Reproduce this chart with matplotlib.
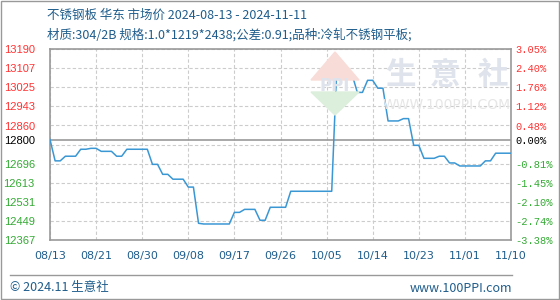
import matplotlib
matplotlib.use("Agg")
import matplotlib.pyplot as plt
from matplotlib.patches import Polygon, Rectangle
from matplotlib.lines import Line2D

plt.rcParams['font.family'] = ['Noto Sans CJK SC', 'DejaVu Sans']

# daily prices 2024-08-13 .. 2024-11-11
prices = [12800, 12708, 12708, 12728, 12728, 12728, 12758, 12758, 12762, 12762,
          12749, 12749, 12749, 12728, 12728, 12758, 12758, 12758, 12758, 12758,
          12693, 12693, 12650, 12650, 12629, 12629, 12629, 12595, 12595, 12439,
          12436, 12436, 12436, 12436, 12436, 12436, 12486, 12486, 12499, 12499,
          12499, 12452, 12452, 12508, 12508, 12508, 12508, 12577, 12577, 12577,
          12577, 12577, 12577, 12577, 12577, 12577, 13120, 13120, 13078, 13078,
          13003, 13003, 13055, 13055, 13021, 13021, 12880, 12880, 12880, 12890,
          12890, 12775, 12775, 12719, 12719, 12719, 12728, 12728, 12699, 12699,
          12686, 12686, 12686, 12686, 12686, 12708, 12708, 12741, 12741, 12741,
          12741]
xlabels = ['08/13', '08/21', '08/30', '09/08', '09/17', '09/26', '10/05',
           '10/14', '10/23', '11/01', '11/10']
base = 12800
ymin, ymax = 12367, 13190
left_ticks = [13190, 13107, 13025, 12943, 12860, 12800, 12696, 12613, 12531, 12449, 12367]
right_labels = ['3.05%', '2.40%', '1.76%', '1.12%', '0.48%', '0.00%',
                '-0.81%', '-1.45%', '-2.10%', '-2.74%', '-3.38%']
title1 = '不锈钢板 华东 市场价 2024-08-13 - 2024-11-11'
title2 = '材质:304/2B 规格:1.0*1219*2438;公差:0.91;品种:冷轧不锈钢平板;'

blue_txt = '#1f5d8c'
red = '#ff3333'
green = '#33aa33'

W, H = 560, 300
def fx(px):
    return px / W
def fy(py):
    return 1 - py / H

fig = plt.figure(figsize=(5.6, 3.0), dpi=100)
fig.patches.append(Rectangle((0.001, 0.002), 0.997, 0.995, transform=fig.transFigure,
                             fill=False, edgecolor='#999999', linewidth=1))

# watermark
for cx, ch in [(400, '生'), (445, '意'), (493, '社')]:
    fig.text(fx(cx), fy(75), ch, fontsize=22, color='#dfe3ec', ha='center', va='center',
             fontweight='bold', zorder=0)
fig.text(fx(447), fy(105), 'WWW.100PPI.COM', fontsize=10, color='#e6e6e6', ha='center',
         va='center', zorder=0, family='DejaVu Sans')
fig.patches.append(Polygon([(fx(311), fy(80)), (fx(335), fy(52)), (fx(359), fy(80))],
                           transform=fig.transFigure, color='#f8dcd8', zorder=0))
fig.patches.append(Polygon([(fx(311), fy(92)), (fx(335), fy(115)), (fx(359), fy(92))],
                           transform=fig.transFigure, color='#dcefdc', zorder=0))
fig.text(fx(335), fy(86), 'PPI', fontsize=12, color='#dfe3ec', ha='center', va='center',
         fontweight='bold', zorder=0, family='DejaVu Sans')

ax = fig.add_axes([fx(50), fy(240), 461 / W, 191 / H])
ax.patch.set_alpha(0)
n = len(prices)
x = list(range(n))
ax.set_xlim(0, n - 1)
ax.set_ylim(ymin, ymax)

step = (ymax - ymin) / 10
for i in range(11):
    ax.axhline(ymin + i * step, color='#cccccc', linestyle=(0, (3, 2)), linewidth=0.8, zorder=1)
xt = [i * 9 for i in range(len(xlabels))]
for v in xt:
    ax.axvline(v, color='#cccccc', linestyle=(0, (3, 2)), linewidth=0.8, zorder=1)
ax.axhline(base, color='#999999', linewidth=1.2, zorder=2)

ax.plot(x, prices, color='#3a97d4', linewidth=1.1, zorder=3)

for s in ax.spines.values():
    s.set_color('#999999')
    s.set_linewidth(1.2)

ax.set_xticks(xt)
ax.set_xticklabels(xlabels, fontsize=8, color=blue_txt, family='DejaVu Sans')
ax.tick_params(axis='x', length=0, pad=8)

ax.set_yticks(left_ticks)
ax.set_yticklabels([str(t) for t in left_ticks], fontsize=8, family='Liberation Sans')
ax.tick_params(axis='y', length=0, pad=11)
for t, lab in zip(left_ticks, ax.get_yticklabels()):
    lab.set_color(red if t > base else ('black' if t == base else green))

ax2 = ax.twinx()
ax2.set_ylim(ymin, ymax)
ax2.set_yticks(left_ticks)
ax2.set_yticklabels(right_labels, fontsize=7.5, family='Liberation Mono')
ax2.tick_params(axis='y', length=0, pad=3)
for t, lab in zip(left_ticks, ax2.get_yticklabels()):
    lab.set_color(red if t > base else ('black' if t == base else green))
for s in ax2.spines.values():
    s.set_visible(False)

fig.text(fx(47), fy(15), title1, fontsize=9, color=blue_txt, va='center')
fig.text(fx(47), fy(35), title2, fontsize=9, color=blue_txt, va='center')

fig.add_artist(Line2D([fx(10), fx(512)], [fy(275), fy(275)],
                      color='#999999', linewidth=1, transform=fig.transFigure))
fig.text(fx(10), fy(288), '© 2024.11 生意社', fontsize=9, color=blue_txt, va='center')
fig.text(fx(512), fy(288), 'www.100PPI.com', fontsize=9, color=blue_txt,
         va='center', ha='right')

fig.savefig('out.png', dpi=100)
